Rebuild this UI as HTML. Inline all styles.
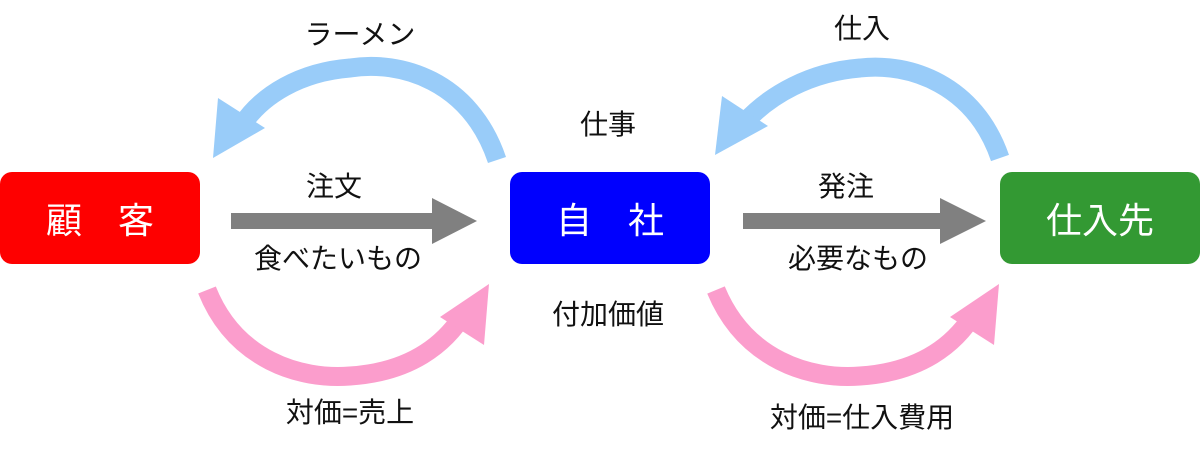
<!DOCTYPE html>
<html><head><meta charset="utf-8"><style>
html,body{margin:0;padding:0;background:#fff;}
body{width:1200px;height:456px;position:relative;overflow:hidden;font-family:"Liberation Sans","Noto Sans CJK JP",sans-serif;}
.box{position:absolute;top:172px;height:92px;width:200px;border-radius:12px;color:#fff;font-size:36px;display:flex;align-items:center;justify-content:center;}
.t{position:absolute;font-size:28px;color:#111;white-space:nowrap;transform:translateX(-50%);line-height:1.2;}
</style></head><body>
<svg width="1200" height="456" style="position:absolute;left:0;top:0">
 <g fill="none" stroke-width="19">
  <path d="M497 160 C470 80 400 60 350 68 C300 72 262 95 242 125" stroke="#99ccf9"/>
  <path d="M1000 158 C975 85 910 62 860 68 C810 72 770 95 745 122" stroke="#99ccf9"/>
  <path d="M207 290 C235 360 300 380 350 376 C410 372 445 345 465 312" stroke="#fb9dcc"/>
  <path d="M716 290 C745 360 810 380 860 376 C920 372 955 345 975 312" stroke="#fb9dcc"/>
 </g>
 <polygon points="213,158 218,98 265,128" fill="#99ccf9"/>
 <polygon points="715,155 722,96 768,126" fill="#99ccf9"/>
 <polygon points="489,284 440,317 484,345" fill="#fb9dcc"/>
 <polygon points="999,284 950,317 994,345" fill="#fb9dcc"/>
 <rect x="231" y="213" width="203" height="16" fill="#808080"/>
 <polygon points="432,198 477,221 432,244" fill="#808080"/>
 <rect x="743" y="213" width="200" height="16" fill="#808080"/>
 <polygon points="940,198 986,221 940,244" fill="#808080"/>
</svg>
<div class="box" style="left:0;background:#fe0000">顧&emsp;客</div>
<div class="box" style="left:510px;background:#0000fe">自&emsp;社</div>
<div class="box" style="left:1000px;background:#339933">仕入先</div>
<div class="t" style="left:360px;top:18px">ラーメン</div>
<div class="t" style="left:862px;top:12px">仕入</div>
<div class="t" style="left:608px;top:108px">仕事</div>
<div class="t" style="left:334px;top:170px">注文</div>
<div class="t" style="left:846px;top:170px">発注</div>
<div class="t" style="left:338px;top:242px">食べたいもの</div>
<div class="t" style="left:858px;top:242px">必要なもの</div>
<div class="t" style="left:608px;top:298px">付加価値</div>
<div class="t" style="left:350px;top:396px">対価=売上</div>
<div class="t" style="left:862px;top:401px">対価=仕入費用</div>
</body></html>
